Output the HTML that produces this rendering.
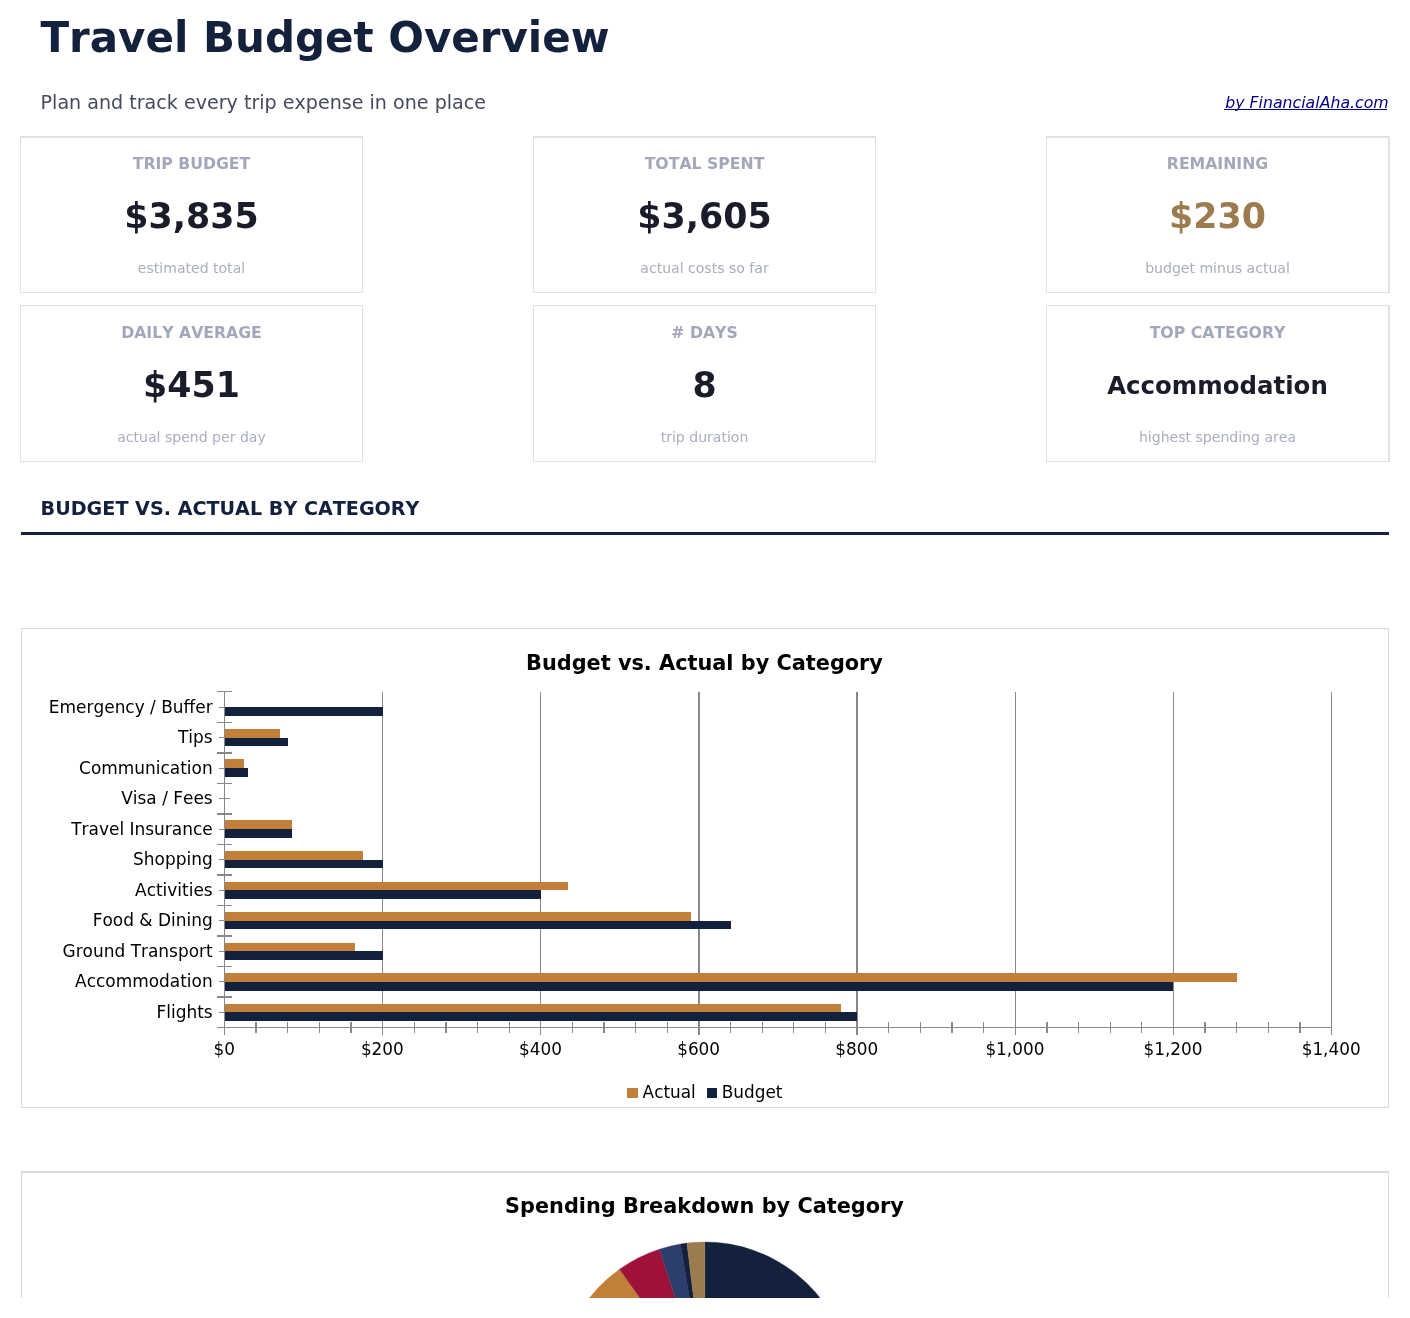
<!DOCTYPE html>
<html lang="en">
<head>
<meta charset="utf-8">
<title>Travel Budget Overview</title>
<style>
*{margin:0;padding:0;box-sizing:border-box}
html,body{width:1410px;height:1318px;background:#fff;overflow:hidden}
body{position:relative;font-family:"DejaVu Sans", "Liberation Sans", sans-serif;color:#1A1D29;font-kerning:none}
.t{position:absolute;white-space:nowrap;line-height:1}
.title{left:40.4px;top:17.4px;font-size:42px;font-weight:bold;color:#14213D}
.sub{left:40.6px;top:93.45px;font-size:19.1px;color:#454A5E}
.by{right:21.3px;top:95px;font-size:15.75px;font-style:italic;color:#000080;text-decoration:none}
.by::after{content:"";position:absolute;left:-1.6px;right:1.4px;top:14px;height:1px;background:#000080}
.card{position:absolute;width:343px;height:157px;border:1px solid #E0E2E8;background:#fff;text-align:center}
.card.r1{border-top-width:2px}
.card.c3{width:344px;border-right-width:2px}
.card .lab{position:absolute;left:0;right:0;font-size:15.7px;font-weight:bold;color:#A2A8BA;line-height:1;white-space:nowrap}
.card .val{position:absolute;left:0;right:0;font-size:34.8px;font-weight:bold;color:#1A1D29;line-height:1;white-space:nowrap}
.card .val.gold{color:#9C7C4F}
.card .val.txt{font-size:24.45px}
.card .cap{position:absolute;left:0;right:0;font-size:14.05px;color:#A9AEC0;line-height:1;white-space:nowrap}
.sec{left:40.6px;top:498.7px;font-size:19.15px;font-weight:bold;color:#14213D}
.rule{position:absolute;left:21px;top:532px;width:1368px;height:3px;background:#14213D}
.chart{position:absolute;left:21px;width:1368px;border:1px solid #D9D9D9;background:#fff}
svg{position:absolute;left:0;top:0;display:block}
svg text{font-family:"DejaVu Sans", "Liberation Sans", sans-serif;fill:#000}
.mask{position:absolute;left:0;top:1298px;width:1410px;height:20px;background:#fff}
</style>
</head>
<body>
<h1 class="t title">Travel Budget Overview</h1>
<p class="t sub">Plan and track every trip expense in one place</p>
<a class="t by">by FinancialAha.com</a>
<div class="card r1 c1" style="left:20px;top:136px;height:157px"><div class="lab" style="top:18.22px">TRIP BUDGET</div><div class="val " style="top:60.96px">$3,835</div><div class="cap" style="top:123.11px">estimated total</div></div>
<div class="card r1 c2" style="left:533px;top:136px;height:157px"><div class="lab" style="top:18.22px">TOTAL SPENT</div><div class="val " style="top:60.96px">$3,605</div><div class="cap" style="top:123.11px">actual costs so far</div></div>
<div class="card r1 c3" style="left:1046px;top:136px;height:157px"><div class="lab" style="top:18.22px">REMAINING</div><div class="val gold" style="top:60.96px">$230</div><div class="cap" style="top:123.11px">budget minus actual</div></div>
<div class="card r2 c1" style="left:20px;top:305px;height:157px"><div class="lab" style="top:19.22px">DAILY AVERAGE</div><div class="val " style="top:61.96px">$451</div><div class="cap" style="top:124.11px">actual spend per day</div></div>
<div class="card r2 c2" style="left:533px;top:305px;height:157px"><div class="lab" style="top:19.22px"># DAYS</div><div class="val " style="top:61.96px">8</div><div class="cap" style="top:124.11px">trip duration</div></div>
<div class="card r2 c3" style="left:1046px;top:305px;height:157px"><div class="lab" style="top:19.22px">TOP CATEGORY</div><div class="val txt" style="top:67.82px">Accommodation</div><div class="cap" style="top:124.11px">highest spending area</div></div>
<h2 class="t sec">BUDGET VS. ACTUAL BY CATEGORY</h2>
<div class="rule"></div>
<div class="chart" style="top:628px;height:480px">
<svg width="1366" height="478" viewBox="22 629 1366 478">
<text x="704.5" y="669.8" font-size="20.83" font-weight="bold" text-anchor="middle">Budget vs. Actual by Category</text>
<g fill="#888888" shape-rendering="crispEdges">
<rect x="224" y="691" width="1" height="344"/>
<rect x="255" y="1022" width="2" height="11"/>
<rect x="287" y="1022" width="1" height="11"/>
<rect x="319" y="1022" width="1" height="11"/>
<rect x="350" y="1022" width="2" height="11"/>
<rect x="382" y="692" width="1" height="343"/>
<rect x="414" y="1022" width="1" height="11"/>
<rect x="445" y="1022" width="2" height="11"/>
<rect x="477" y="1022" width="1" height="11"/>
<rect x="509" y="1022" width="1" height="11"/>
<rect x="540" y="692" width="1" height="343"/>
<rect x="572" y="1022" width="1" height="11"/>
<rect x="603" y="1022" width="2" height="11"/>
<rect x="635" y="1022" width="1" height="11"/>
<rect x="667" y="1022" width="1" height="11"/>
<rect x="698" y="692" width="2" height="343"/>
<rect x="730" y="1022" width="1" height="11"/>
<rect x="762" y="1022" width="1" height="11"/>
<rect x="793" y="1022" width="1" height="11"/>
<rect x="825" y="1022" width="1" height="11"/>
<rect x="856" y="692" width="2" height="343"/>
<rect x="888" y="1022" width="1" height="11"/>
<rect x="920" y="1022" width="1" height="11"/>
<rect x="951" y="1022" width="2" height="11"/>
<rect x="983" y="1022" width="1" height="11"/>
<rect x="1015" y="692" width="1" height="343"/>
<rect x="1046" y="1022" width="2" height="11"/>
<rect x="1078" y="1022" width="1" height="11"/>
<rect x="1110" y="1022" width="1" height="11"/>
<rect x="1141" y="1022" width="1" height="11"/>
<rect x="1173" y="692" width="1" height="343"/>
<rect x="1204" y="1022" width="2" height="11"/>
<rect x="1236" y="1022" width="1" height="11"/>
<rect x="1268" y="1022" width="1" height="11"/>
<rect x="1299" y="1022" width="2" height="11"/>
<rect x="1331" y="692" width="1" height="343"/>
<rect x="217" y="1027" width="1115" height="1"/>
<rect x="217" y="691" width="15" height="1"/>
<rect x="219" y="707" width="11" height="1"/>
<rect x="217" y="722" width="15" height="1"/>
<rect x="219" y="737" width="11" height="1"/>
<rect x="217" y="752" width="15" height="2"/>
<rect x="219" y="768" width="11" height="1"/>
<rect x="217" y="783" width="15" height="1"/>
<rect x="219" y="798" width="11" height="1"/>
<rect x="217" y="813" width="15" height="2"/>
<rect x="219" y="829" width="11" height="1"/>
<rect x="217" y="844" width="15" height="1"/>
<rect x="219" y="859" width="11" height="1"/>
<rect x="217" y="874" width="15" height="2"/>
<rect x="219" y="890" width="11" height="1"/>
<rect x="217" y="905" width="15" height="1"/>
<rect x="219" y="920" width="11" height="1"/>
<rect x="217" y="935" width="15" height="2"/>
<rect x="219" y="951" width="11" height="1"/>
<rect x="217" y="966" width="15" height="1"/>
<rect x="219" y="981" width="11" height="1"/>
<rect x="217" y="996" width="15" height="2"/>
<rect x="219" y="1012" width="11" height="1"/>
</g>
<g shape-rendering="crispEdges">
<rect x="225" y="707" width="158" height="9" fill="#14213D"/>
<rect x="225" y="729" width="55" height="9" fill="#C17F3A"/>
<rect x="225" y="738" width="63" height="8" fill="#14213D"/>
<rect x="225" y="759" width="19" height="9" fill="#C17F3A"/>
<rect x="225" y="768" width="23" height="9" fill="#14213D"/>
<rect x="225" y="820" width="67" height="9" fill="#C17F3A"/>
<rect x="225" y="829" width="67" height="9" fill="#14213D"/>
<rect x="225" y="851" width="138" height="9" fill="#C17F3A"/>
<rect x="225" y="860" width="158" height="8" fill="#14213D"/>
<rect x="225" y="882" width="343" height="8" fill="#C17F3A"/>
<rect x="225" y="890" width="316" height="9" fill="#14213D"/>
<rect x="225" y="912" width="466" height="9" fill="#C17F3A"/>
<rect x="225" y="921" width="506" height="8" fill="#14213D"/>
<rect x="225" y="943" width="130" height="8" fill="#C17F3A"/>
<rect x="225" y="951" width="158" height="9" fill="#14213D"/>
<rect x="225" y="973" width="1012" height="9" fill="#C17F3A"/>
<rect x="225" y="982" width="948" height="9" fill="#14213D"/>
<rect x="225" y="1004" width="616" height="8" fill="#C17F3A"/>
<rect x="225" y="1012" width="632" height="9" fill="#14213D"/>
</g>
<g font-size="16.97" text-anchor="end">
<text x="212.7" y="713">Emergency / Buffer</text>
<text x="212.7" y="743">Tips</text>
<text x="212.7" y="774">Communication</text>
<text x="212.7" y="804">Visa / Fees</text>
<text x="212.7" y="835">Travel Insurance</text>
<text x="212.7" y="865">Shopping</text>
<text x="212.7" y="896">Activities</text>
<text x="212.7" y="926">Food &amp; Dining</text>
<text x="212.7" y="957">Ground Transport</text>
<text x="212.7" y="987">Accommodation</text>
<text x="212.7" y="1018">Flights</text>
</g>
<g font-size="16.88" text-anchor="middle">
<text x="224.2" y="1055">$0</text>
<text x="382.34" y="1055">$200</text>
<text x="540.48" y="1055">$400</text>
<text x="698.62" y="1055">$600</text>
<text x="856.76" y="1055">$800</text>
<text x="1014.9" y="1055">$1,000</text>
<text x="1173.04" y="1055">$1,200</text>
<text x="1331.18" y="1055">$1,400</text>
</g>
<rect x="627" y="1088" width="11" height="10" fill="#C17F3A" shape-rendering="crispEdges"/>
<text x="642.6" y="1098" font-size="16.88">Actual</text>
<rect x="707" y="1088" width="10" height="10" fill="#14213D" shape-rendering="crispEdges"/>
<text x="721.8" y="1098" font-size="16.88">Budget</text>
</svg>
</div>
<div class="chart" style="top:1171px;height:200px;border-top-width:2px">
<svg width="1366" height="198" viewBox="22 1173 1366 198">
<text x="704.5" y="1213.4" font-size="20.84" font-weight="bold" text-anchor="middle">Spending Breakdown by Category</text>
<path d="M704.8 1389 L704.8 1242 A147 147 0 0 1 848.53 1358.17 Z" fill="#14213D" stroke="#14213D" stroke-width="0.35"/>
<path d="M704.8 1389 L848.53 1358.17 A147 147 0 0 1 641.02 1521.44 Z" fill="#C17F3A" stroke="#C17F3A" stroke-width="0.35"/>
<path d="M704.8 1389 L641.02 1521.44 A147 147 0 0 1 606.07 1497.91 Z" fill="#9C7C4F" stroke="#9C7C4F" stroke-width="0.35"/>
<path d="M704.8 1389 L606.07 1497.91 A147 147 0 0 1 560.55 1360.68 Z" fill="#9E1239" stroke="#9E1239" stroke-width="0.35"/>
<path d="M704.8 1389 L560.55 1360.68 A147 147 0 0 1 619.54 1269.25 Z" fill="#C17F3A" stroke="#C17F3A" stroke-width="0.35"/>
<path d="M704.8 1389 L619.54 1269.25 A147 147 0 0 1 659.44 1249.17 Z" fill="#9E1239" stroke="#9E1239" stroke-width="0.35"/>
<path d="M704.8 1389 L659.44 1249.17 A147 147 0 0 1 680.57 1244.01 Z" fill="#2C3E6B" stroke="#2C3E6B" stroke-width="0.35"/>
<path d="M704.8 1389 L680.57 1244.01 A147 147 0 0 1 686.91 1243.09 Z" fill="#14213D" stroke="#14213D" stroke-width="0.35"/>
<path d="M704.8 1389 L686.91 1243.09 A147 147 0 0 1 704.8 1242 Z" fill="#9C7C4F" stroke="#9C7C4F" stroke-width="0.35"/>
</svg>
</div>
<div class="mask"></div>
</body>
</html>
